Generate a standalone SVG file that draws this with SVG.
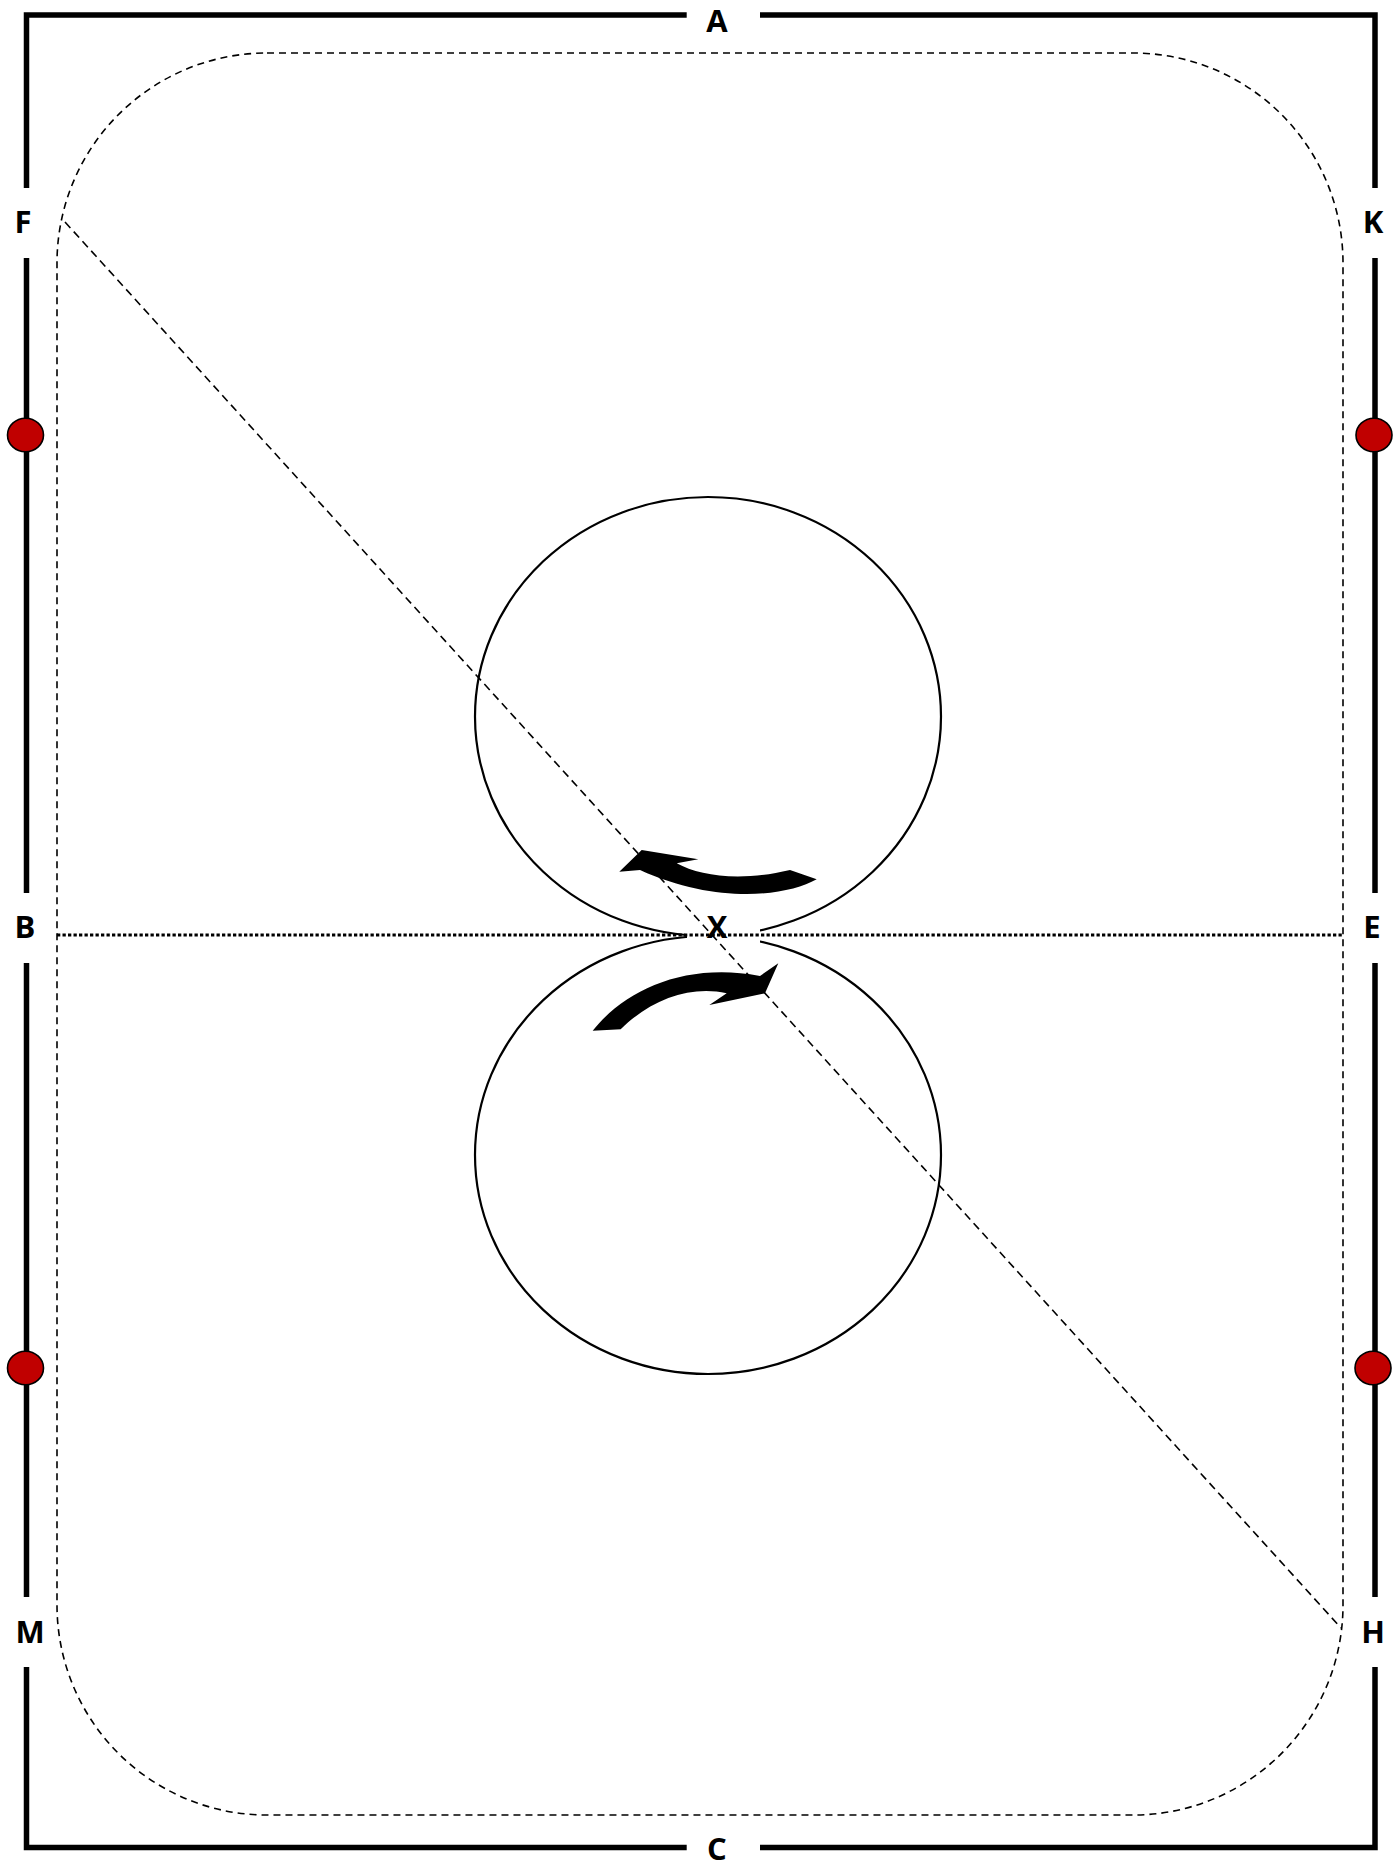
<svg xmlns="http://www.w3.org/2000/svg" width="1400" height="1865" viewBox="0 0 1400 1865">
<style>
.frame{fill:none;stroke:#000;stroke-width:5.5;stroke-linejoin:miter}
.track{fill:none;stroke:#000;stroke-width:1.6;stroke-dasharray:7 5}
.diag{fill:none;stroke:#000;stroke-width:1.6;stroke-dasharray:8 5}
.centre{fill:none;stroke:#000;stroke-width:3;stroke-dasharray:3.3 2.2}
.circ{fill:none;stroke:#000;stroke-width:2.2}
.dot{fill:#C00000;stroke:#000;stroke-width:1.6}
.arrow{fill:#000;stroke:none}
.lbl{font-family:"Open Sans","Liberation Sans",sans-serif;font-weight:700;font-size:31px;text-anchor:middle;fill:#000}
</style>
<rect width="1400" height="1865" fill="#fff"/>
<g id="frame">
<path class="frame" d="M686.7,15 H26.5 V188 M760,15 H1375 V188 M26.5,258 V893 M26.5,963 V1597 M26.5,1667 V1847.5 H686.7 M760,1847.5 H1375 V1667 M1375,258 V893 M1375,963 V1597"/>
</g>
<g id="track">
<rect class="track" x="57" y="53" width="1286" height="1762" rx="210" ry="210"/>
</g>
<g id="circles">
<ellipse class="circ" cx="708" cy="716.5" rx="233" ry="219.5"/>
<ellipse class="circ" cx="708" cy="1155" rx="233" ry="219"/>
<rect x="687" y="912" width="73" height="40" fill="#fff"/>
</g>
<g id="connectors">
<line class="centre" x1="57" y1="935" x2="1343" y2="935"/>
<line class="diag" x1="65" y1="222" x2="1341" y2="1628"/>
</g>
<g id="arrow-upper">
<path class="arrow" d="M619.3,871.7 L641.7,850 L698.3,859.3 L676.7,863.3 C700,876 740,882 790,870 L816.7,879.3 C785,897 715,904 640,870 Z"/>
</g>
<g id="arrow-lower">
<path class="arrow" d="M592.7,1030.7 C625,990 685,962 760,976 L778.3,963.3 L765,993.3 L709.3,1005 L726.7,993.3 C690,985 650,1000 620.7,1029.3 Z"/>
</g>
<g id="markers">
<ellipse class="dot" cx="25.5" cy="435" rx="18" ry="16.8"/>
<ellipse class="dot" cx="1374" cy="435" rx="18" ry="16.8"/>
<ellipse class="dot" cx="25.5" cy="1368" rx="18" ry="16.8"/>
<ellipse class="dot" cx="1373" cy="1368" rx="18" ry="16.8"/>
</g>
<g id="labels">
<text class="lbl" x="717" y="32">A</text>
<text class="lbl" x="23" y="233">F</text>
<text class="lbl" x="1373" y="233">K</text>
<text class="lbl" x="25" y="938">B</text>
<text class="lbl" x="1372" y="938">E</text>
<text class="lbl" x="717" y="938">X</text>
<text class="lbl" x="30" y="1643">M</text>
<text class="lbl" x="1373" y="1643">H</text>
<text class="lbl" x="717" y="1860">C</text>
</g>
</svg>
